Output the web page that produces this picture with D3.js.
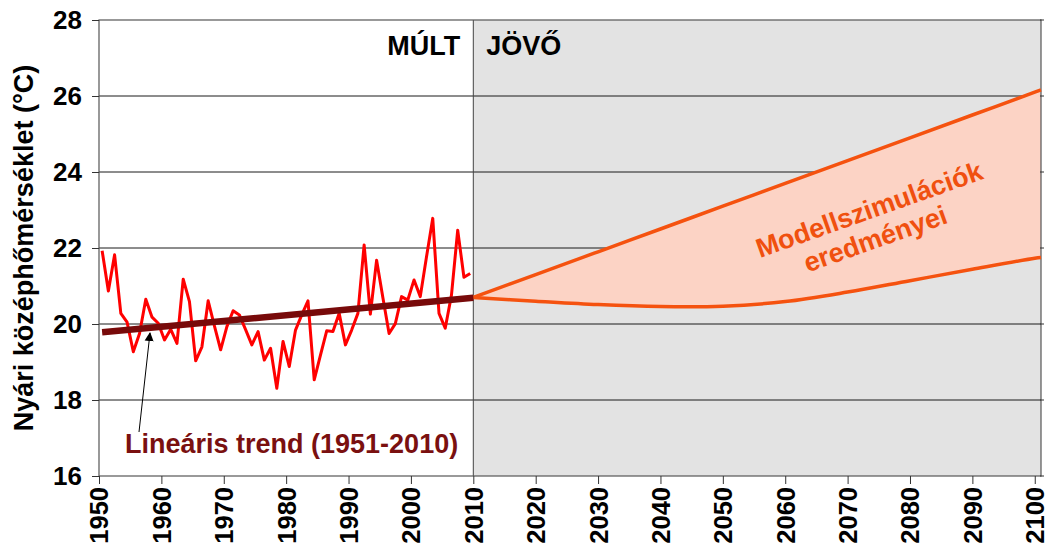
<!DOCTYPE html>
<html>
<head>
<meta charset="utf-8">
<script src="https://cdn.jsdelivr.net/npm/d3@7/dist/d3.min.js"></script>
<style>
  html, body { margin: 0; padding: 0; background: #fff; }
  svg { display: block; font-family: "Liberation Sans", Arial, sans-serif; }
</style>
</head>
<body>
<svg id="chart" width="1048" height="551"></svg>
<script>
// Observed summer mean temperature, 1951-2010 (°C)
const obsYears = d3.range(1951, 2011);
const obsTemp = [21.93, 20.87, 21.82, 20.28, 20.05, 19.27, 19.75, 20.65, 20.18, 20.02,
                 19.58, 19.86, 19.49, 21.18, 20.59, 19.03, 19.40, 20.61, 19.95, 19.32,
                 19.93, 20.35, 20.24, 19.85, 19.45, 19.80, 19.05, 19.36, 18.31, 19.54,
                 18.88, 19.84, 20.24, 20.61, 18.53, 19.18, 19.82, 19.80, 20.28, 19.45,
                 19.84, 20.28, 22.08, 20.26, 21.68, 20.70, 19.75, 20.01, 20.72, 20.63,
                 21.16, 20.72, 21.77, 22.78, 20.28, 19.89, 20.76, 22.47, 21.23, 21.33];

// Linear trend endpoints
const trendYears = [1950.5, 2010];
const trendTemp = [19.78, 20.69];

// Model simulation envelope, 2010-2100
const projYears = [2010, 2020, 2030, 2040, 2050, 2060, 2070, 2080, 2090, 2100, 2101];
const projUpper = [20.70, 21.30, 21.90, 22.50, 23.10, 23.70, 24.30, 24.90, 25.50, 26.10, 26.16];
const projLower = [20.70, 20.60, 20.51, 20.46, 20.47, 20.59, 20.84, 21.14, 21.44, 21.73, 21.75];

const yTicks = [16, 18, 20, 22, 24, 26, 28];
const xTicks = d3.range(1950, 2101, 10);
const splitYear = 2010;

const svg = d3.select("#chart");
const plotL = 99, plotR = 1041, plotT = 20, plotB = 476;

const x = d3.scaleLinear().domain([1950, 2101]).range([plotL, plotR]);
const y = d3.scaleLinear().domain([16, 28]).range([plotB, plotT]);

// Plot background: past (white) and future (grey)
svg.append("rect").attr("x", plotL).attr("y", plotT)
  .attr("width", x(splitYear) - plotL).attr("height", plotB - plotT).attr("fill", "#fff");
svg.append("rect").attr("x", x(splitYear)).attr("y", plotT)
  .attr("width", plotR - x(splitYear)).attr("height", plotB - plotT).attr("fill", "#e3e3e3");

// Horizontal gridlines
svg.append("g").selectAll("line").data(yTicks.slice(1, -1)).join("line")
  .attr("x1", plotL).attr("x2", plotR)
  .attr("y1", d => y(d)).attr("y2", d => y(d))
  .attr("stroke", "#1a1a1a").attr("stroke-width", 1);

// Projection envelope
const idx = d3.range(projYears.length);
const smooth = d3.curveCatmullRom.alpha(0.5);
svg.append("path")
  .datum(idx)
  .attr("fill", "#fcd3c5")
  .attr("d", d3.area().curve(smooth)
    .x(i => x(projYears[i])).y0(i => y(projLower[i])).y1(i => y(projUpper[i])));

// Separator past / future
svg.append("line").attr("x1", x(splitYear)).attr("x2", x(splitYear))
  .attr("y1", plotT).attr("y2", plotB).attr("stroke", "#444").attr("stroke-width", 1);

// Plot frame
svg.append("rect").attr("x", plotL).attr("y", plotT)
  .attr("width", plotR - plotL).attr("height", plotB - plotT)
  .attr("fill", "none").attr("stroke", "#555").attr("stroke-width", 1.2);

// Envelope boundaries
const projLine = arr => d3.line().curve(smooth)
  .x(i => x(projYears[i])).y(i => y(arr[i]));
svg.append("path").datum(idx).attr("fill", "none").attr("stroke", "#f5520f")
  .attr("stroke-width", 3.5).attr("d", projLine(projUpper));
svg.append("path").datum(idx).attr("fill", "none").attr("stroke", "#f5520f")
  .attr("stroke-width", 3.5).attr("d", projLine(projLower));

// Observed series (plotted at mid-year)
svg.append("path")
  .datum(obsYears.map((yr, i) => [yr - 0.5, obsTemp[i]]))
  .attr("fill", "none").attr("stroke", "#ff0000").attr("stroke-width", 3)
  .attr("stroke-linejoin", "round")
  .attr("d", d3.line().x(d => x(d[0])).y(d => y(d[1])));

// Linear trend
svg.append("line")
  .attr("x1", x(trendYears[0])).attr("y1", y(trendTemp[0]))
  .attr("x2", x(trendYears[1])).attr("y2", y(trendTemp[1]))
  .attr("stroke", "#780a0a").attr("stroke-width", 6.5);

// Y axis
const yAxis = svg.append("g").attr("transform", `translate(${plotL},0)`)
  .call(d3.axisLeft(y).tickValues(yTicks).tickSize(7).tickPadding(10));
yAxis.select(".domain").remove();
yAxis.selectAll(".tick line").attr("stroke", "#333");
yAxis.selectAll("text").attr("font-size", 26).attr("font-weight", "bold").attr("fill", "#000")
  .attr("font-family", "'Liberation Sans', Arial, sans-serif");

// Small right-edge ticks
svg.append("g").selectAll("line").data(yTicks).join("line")
  .attr("x1", plotR - 1).attr("x2", plotR + 3)
  .attr("y1", d => y(d)).attr("y2", d => y(d)).attr("stroke", "#333");

// X axis with vertical labels
const xAxis = svg.append("g").attr("transform", `translate(0,${plotB})`)
  .call(d3.axisBottom(x).tickValues(xTicks).tickFormat(d3.format("d")).tickSize(8));
xAxis.select(".domain").remove();
xAxis.selectAll(".tick line").attr("stroke", "#333");
xAxis.selectAll("text")
  .attr("font-size", 25.5).attr("font-weight", "bold").attr("fill", "#000")
  .attr("font-family", "'Liberation Sans', Arial, sans-serif")
  .attr("transform", "rotate(-90)")
  .attr("text-anchor", "end").attr("x", -11).attr("y", 0).attr("dy", "0.35em");

// Y axis title
svg.append("text")
  .attr("transform", `translate(33,${(plotT + plotB) / 2}) rotate(-90)`)
  .attr("text-anchor", "middle")
  .attr("font-size", 27).attr("font-weight", "bold").attr("fill", "#000")
  .text("Nyári középhőmérséklet (°C)");

// Period labels
svg.append("text").attr("x", x(splitYear) - 13).attr("y", 55)
  .attr("text-anchor", "end").attr("font-size", 27).attr("font-weight", "bold")
  .text("MÚLT");
svg.append("text").attr("x", x(splitYear) + 13).attr("y", 55)
  .attr("text-anchor", "start").attr("font-size", 27).attr("font-weight", "bold")
  .text("JÖVŐ");

// Envelope label
const lbl = svg.append("text")
  .attr("transform", "translate(874,223) rotate(-19.5)")
  .attr("text-anchor", "middle").attr("font-size", 27).attr("font-weight", "bold")
  .attr("fill", "#f0500f");
lbl.append("tspan").attr("x", 0).attr("y", -5).text("Modellszimulációk");
lbl.append("tspan").attr("x", -4).attr("y", 24.5).text("eredményei");

// Trend annotation with arrow
svg.append("defs").append("marker")
  .attr("id", "arrowhead").attr("viewBox", "0 0 10 10")
  .attr("refX", 9).attr("refY", 5).attr("markerWidth", 9).attr("markerHeight", 10)
  .attr("markerUnits", "userSpaceOnUse").attr("orient", "auto")
  .append("path").attr("d", "M0,0 L10,5 L0,10 z").attr("fill", "#000");
svg.append("line").attr("x1", 139).attr("y1", 432).attr("x2", 150).attr("y2", 333)
  .attr("stroke", "#000").attr("stroke-width", 1)
  .attr("marker-end", "url(#arrowhead)");
svg.append("text").attr("x", 125).attr("y", 453)
  .attr("font-size", 27).attr("font-weight", "bold").attr("fill", "#7a1010")
  .text("Lineáris trend (1951-2010)");
</script>
</body>
</html>
